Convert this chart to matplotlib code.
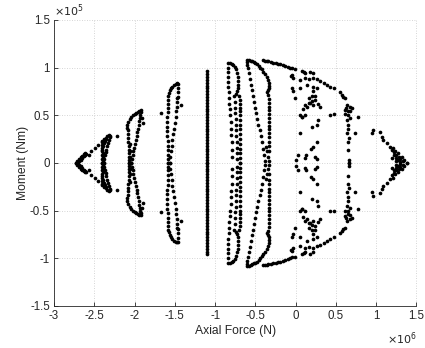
import numpy as np
import matplotlib
matplotlib.use("Agg")
import matplotlib.pyplot as plt

plt.rcParams['font.family'] = ['Liberation Sans', 'DejaVu Sans']

# Upper-half points (x in 1e6 N, y in 1e5 Nm); the diagram is symmetric about M=0
a_x = [-2.73, -2.71, -2.69, -2.67, -2.65, -2.63, -2.61, -2.60, -2.61, -2.63, -2.65, -2.67, -2.69, -2.70, -2.57, -2.535, -2.49, -2.45]
a_y = [0.0, 0.02, 0.04, 0.06, 0.075, 0.09, 0.10, 0.095, 0.085, 0.07, 0.05, 0.035, 0.02, 0.01, 0.08, 0.125, 0.155, 0.19]

b_x = [-2.41, -2.41, -2.41, -2.41, -2.41, -2.405, -2.40, -2.40, -2.38, -2.36, -2.34, -2.32, -2.31,
       -2.31, -2.32, -2.33, -2.34, -2.35, -2.36, -2.37, -2.38, -2.385,
       -2.39, -2.39, -2.39, -2.40, -2.39, -2.38, -2.37, -2.36, -2.22]
b_y = [0.0, 0.04, 0.08, 0.12, 0.16, 0.19, 0.22, 0.23, 0.25, 0.265, 0.28, 0.29, 0.285,
       0.27, 0.24, 0.21, 0.18, 0.14, 0.11, 0.08, 0.04, 0.0,
       0.02, 0.06, 0.10, 0.14, 0.18, 0.21, 0.23, 0.25, 0.285]

c_x = [-2.09, -2.09, -2.08, -2.06, -2.04, -2.02, -2.00, -1.98, -1.96, -1.94, -1.925,
       -2.085, -2.08, -2.08, -2.075, -2.07, -2.07, -2.07, -2.07, -2.065, -2.065,
       -2.06, -2.06, -2.055, -2.05,
       -1.925, -1.93, -1.935, -1.94, -1.945, -1.955, -1.965, -1.975, -1.985, -1.995, -2.005, -2.015, -2.025, -2.035, -2.04,
       -1.89, -1.91]
c_y = [0.37, 0.40, 0.43, 0.46, 0.48, 0.50, 0.515, 0.525, 0.535, 0.545, 0.55,
       0.34, 0.30, 0.26, 0.22, 0.18, 0.14, 0.10, 0.06, 0.03, 0.0,
       0.20, 0.12, 0.06, 0.0,
       0.53, 0.50, 0.47, 0.44, 0.40, 0.36, 0.32, 0.28, 0.24, 0.20, 0.16, 0.12, 0.08, 0.04, 0.0,
       0.42, 0.47]

d_x = [-1.59, -1.59, -1.585, -1.575, -1.56, -1.545, -1.53, -1.51, -1.49, -1.47, -1.455,
       -1.59, -1.59, -1.595, -1.595, -1.595, -1.595, -1.595, -1.59, -1.59, -1.59, -1.59, -1.59, -1.59,
       -1.455, -1.46, -1.465, -1.47, -1.475, -1.48, -1.49, -1.50, -1.51, -1.52, -1.53, -1.54, -1.55, -1.555, -1.56,
       -1.42, -1.47, -1.67]
d_y = [0.62, 0.66, 0.70, 0.73, 0.76, 0.78, 0.80, 0.815, 0.825, 0.835, 0.83,
       0.58, 0.53, 0.48, 0.43, 0.38, 0.33, 0.28, 0.23, 0.18, 0.13, 0.08, 0.04, 0.0,
       0.79, 0.74, 0.69, 0.64, 0.59, 0.54, 0.48, 0.42, 0.36, 0.30, 0.24, 0.18, 0.12, 0.06, 0.0,
       0.61, 0.68, 0.52]

e_x = [-1.105, -1.095, -1.105, -1.095, -1.105, -1.095, -1.105, -1.095, -1.105, -1.095, -1.105,
       -1.095, -1.105, -1.095, -1.105, -1.095, -1.105, -1.095, -1.105, -1.095, -1.105, -1.095,
       -1.105, -1.095, -1.105, -1.095, -1.105, -1.095, -1.105, -1.095, -1.105, -1.095, -1.10]
e_y = [0.96, 0.93, 0.90, 0.87, 0.84, 0.81, 0.78, 0.75, 0.72, 0.69, 0.66,
       0.63, 0.60, 0.57, 0.54, 0.51, 0.48, 0.45, 0.42, 0.39, 0.36, 0.33,
       0.30, 0.27, 0.24, 0.21, 0.18, 0.15, 0.12, 0.09, 0.06, 0.03, 0.0]

f_x = [-0.845, -0.845, -0.843, -0.84, -0.836, -0.832, -0.828, -0.823, -0.818, -0.813, -0.808, -0.803, -0.798, -0.794, -0.79, -0.787,
       -0.835, -0.815, -0.795, -0.775, -0.755, -0.74, -0.727, -0.718, -0.713, -0.712, -0.716, -0.726, -0.74,
       -0.76, -0.757, -0.753, -0.75, -0.746, -0.743, -0.74, -0.737, -0.734, -0.731, -0.728, -0.726,
       -0.70, -0.695, -0.692, -0.69, -0.69, -0.69, -0.69, -0.69, -0.69, -0.69, -0.69, -0.69, -0.69, -0.69, -0.69, -0.69]
f_y = [1.0, 0.95, 0.9, 0.85, 0.8, 0.74, 0.68, 0.62, 0.56, 0.50, 0.43, 0.36, 0.29, 0.22, 0.14, 0.06,
       1.045, 1.045, 1.04, 1.03, 1.01, 0.98, 0.94, 0.90, 0.86, 0.82, 0.78, 0.75, 0.72,
       0.70, 0.64, 0.58, 0.52, 0.46, 0.40, 0.34, 0.28, 0.22, 0.16, 0.10, 0.04,
       0.70, 0.66, 0.62, 0.58, 0.54, 0.50, 0.45, 0.40, 0.35, 0.30, 0.25, 0.20, 0.15, 0.10, 0.05, 0.0]

g_x = [-0.61, -0.60, -0.59, -0.578, -0.566, -0.554, -0.542, -0.53, -0.517, -0.504, -0.49, -0.476, -0.462, -0.448, -0.434, -0.42, -0.406, -0.393, -0.38,
       -0.60, -0.58, -0.56, -0.54, -0.52, -0.50, -0.48, -0.46, -0.44, -0.42, -0.40, -0.38, -0.36, -0.345, -0.335, -0.33, -0.335, -0.345, -0.355,
       -0.34, -0.335, -0.33, -0.33, -0.33, -0.33, -0.33, -0.33, -0.33, -0.33, -0.33, -0.33, -0.333, -0.336,
       -0.365, -0.36, -0.33, -0.34, -0.335]
g_y = [1.06, 1.03, 0.99, 0.94, 0.88, 0.82, 0.76, 0.70, 0.64, 0.58, 0.52, 0.46, 0.40, 0.34, 0.28, 0.22, 0.15, 0.08, 0.02,
       1.08, 1.08, 1.07, 1.065, 1.055, 1.045, 1.035, 1.02, 1.0, 0.98, 0.955, 0.93, 0.90, 0.87, 0.84, 0.81, 0.78, 0.76, 0.74,
       0.71, 0.67, 0.63, 0.59, 0.55, 0.51, 0.47, 0.43, 0.39, 0.35, 0.31, 0.27, 0.22, 0.18,
       0.17, 0.12, 0.12, 0.06, 0.02]

h_x = [-0.40, -0.38, -0.36, -0.34, -0.31, -0.28, -0.25, -0.22, -0.19, -0.16, -0.13, -0.10, -0.07, -0.04, -0.01,
       -0.047, -0.027, -0.06, 0.077, 0.118, 0.18, 0.22, 0.10, 0.056, 0.118, 0.16,
       0.22, 0.263, 0.305, 0.346, 0.39, 0.43, 0.47, 0.14, 0.22,
       -0.047, -0.027, -0.006, 0.056, 0.22, 0.26, 0.20, 0.16, 0.24,
       0.118, 0.16, 0.20, 0.24, 0.14, 0.283, 0.305, 0.097, 0.18, 0.22,
       0.056, 0.118, 0.43, 0.47, 0.283, 0.263, 0.20,
       0.08, 0.056, 0.263, 0.19, 0.21,
       0.0, 0.03, 0.13, 0.235, 0.118, 0.263, 0.08]
h_y = [1.075, 1.072, 1.068, 1.064, 1.058, 1.05, 1.045, 1.04, 1.035, 1.03, 1.02, 1.01, 1.0, 0.99, 0.985,
       0.92, 0.89, 0.91, 0.96, 0.94, 0.955, 0.94, 0.95, 0.87, 0.89, 0.88,
       0.89, 0.875, 0.86, 0.84, 0.82, 0.80, 0.78, 0.82, 0.80,
       0.78, 0.75, 0.68, 0.78, 0.75, 0.78, 0.70, 0.68, 0.70,
       0.61, 0.63, 0.65, 0.66, 0.59, 0.62, 0.59, 0.57, 0.63, 0.61,
       0.50, 0.50, 0.50, 0.51, 0.45, 0.40, 0.38,
       0.48, 0.31, 0.22, 0.15, 0.17,
       0.035, 0.08, 0.08, 0.06, 0.05, 0.04, 0.48]

k_x = [0.573, 0.614, 0.635, 0.676, 0.70, 0.614, 0.655, 0.68, 0.78, 0.614, 0.676, 0.62, 0.645, 0.655,
       0.635, 0.74, 0.655, 0.655, 0.668, 0.668, 0.64, 0.65, 0.66, 0.55, 0.59]
k_y = [0.714, 0.68, 0.61, 0.59, 0.575, 0.556, 0.54, 0.545, 0.486, 0.51, 0.475, 0.58, 0.40, 0.50,
       0.31, 0.31, 0.22, 0.136, 0.03, 0.0, 0.45, 0.36, 0.26, 0.74, 0.69]

r_x = [0.945, 0.966, 1.05, 1.07, 1.09, 1.14, 1.17, 1.21, 1.23, 1.275, 1.318, 1.35, 1.38,
       1.20, 1.22, 1.25, 1.28, 1.30, 1.33, 1.24, 1.27, 1.30, 1.22, 1.25, 1.20]
r_y = [0.31, 0.346, 0.32, 0.276, 0.24, 0.21, 0.17, 0.154, 0.12, 0.10, 0.066, 0.03, 0.0,
       0.13, 0.11, 0.08, 0.06, 0.04, 0.02, 0.05, 0.03, 0.01, 0.08, 0.02, 0.05]

upper_x = np.concatenate([a_x, b_x, c_x, d_x, e_x, f_x, g_x, h_x, k_x, r_x])
upper_y = np.concatenate([a_y, b_y, c_y, d_y, e_y, f_y, g_y, h_y, k_y, r_y])
all_x = np.concatenate([upper_x, upper_x])
all_y = np.concatenate([upper_y, -upper_y])

x_ticks = [-3, -2.5, -2, -1.5, -1, -0.5, 0, 0.5, 1, 1.5]
x_labels = ['-3', '-2.5', '-2', '-1.5', '-1', '-0.5', '0', '0.5', '1', '1.5']
y_ticks = [-1.5, -1, -0.5, 0, 0.5, 1, 1.5]
y_labels = ['-1.5', '-1', '-0.5', '0', '0.5', '1', '1.5']

fig = plt.figure(figsize=(4.25, 3.48), dpi=100)
ax = fig.add_axes([0.127, 0.121, 0.853, 0.822])
ax.scatter(all_x, all_y, s=7, c='black', marker='o', linewidths=0, zorder=3)
ax.set_xlim(-3, 1.5)
ax.set_ylim(-1.5, 1.5)
ax.set_xticks(x_ticks)
ax.set_xticklabels(x_labels)
ax.set_yticks(y_ticks)
ax.set_yticklabels(y_labels)
ax.grid(True, linestyle=(0, (1, 2)), color='#c8c8c8', linewidth=0.6)
ax.set_axisbelow(True)
for s in ['top', 'right']:
    ax.spines[s].set_visible(False)
for s in ['left', 'bottom']:
    ax.spines[s].set_color('#262626')
    ax.spines[s].set_linewidth(0.6)
ax.tick_params(direction='in', length=3, width=0.6, colors='#262626', labelsize=8.3, pad=3)
ax.set_xlabel('Axial Force (N)', fontsize=8.7, color='#262626', labelpad=2)
ax.set_ylabel('Moment (Nm)', fontsize=8.7, color='#262626', labelpad=1)
ax.text(0.0, 1.003, r'$\times10^{5}$', transform=ax.transAxes, fontsize=8, color='#262626',
        ha='left', va='bottom')
ax.text(1.0, -0.085, r'$\times10^{6}$', transform=ax.transAxes, fontsize=8, color='#262626',
        ha='right', va='top')
fig.savefig('out.png', dpi=100)
